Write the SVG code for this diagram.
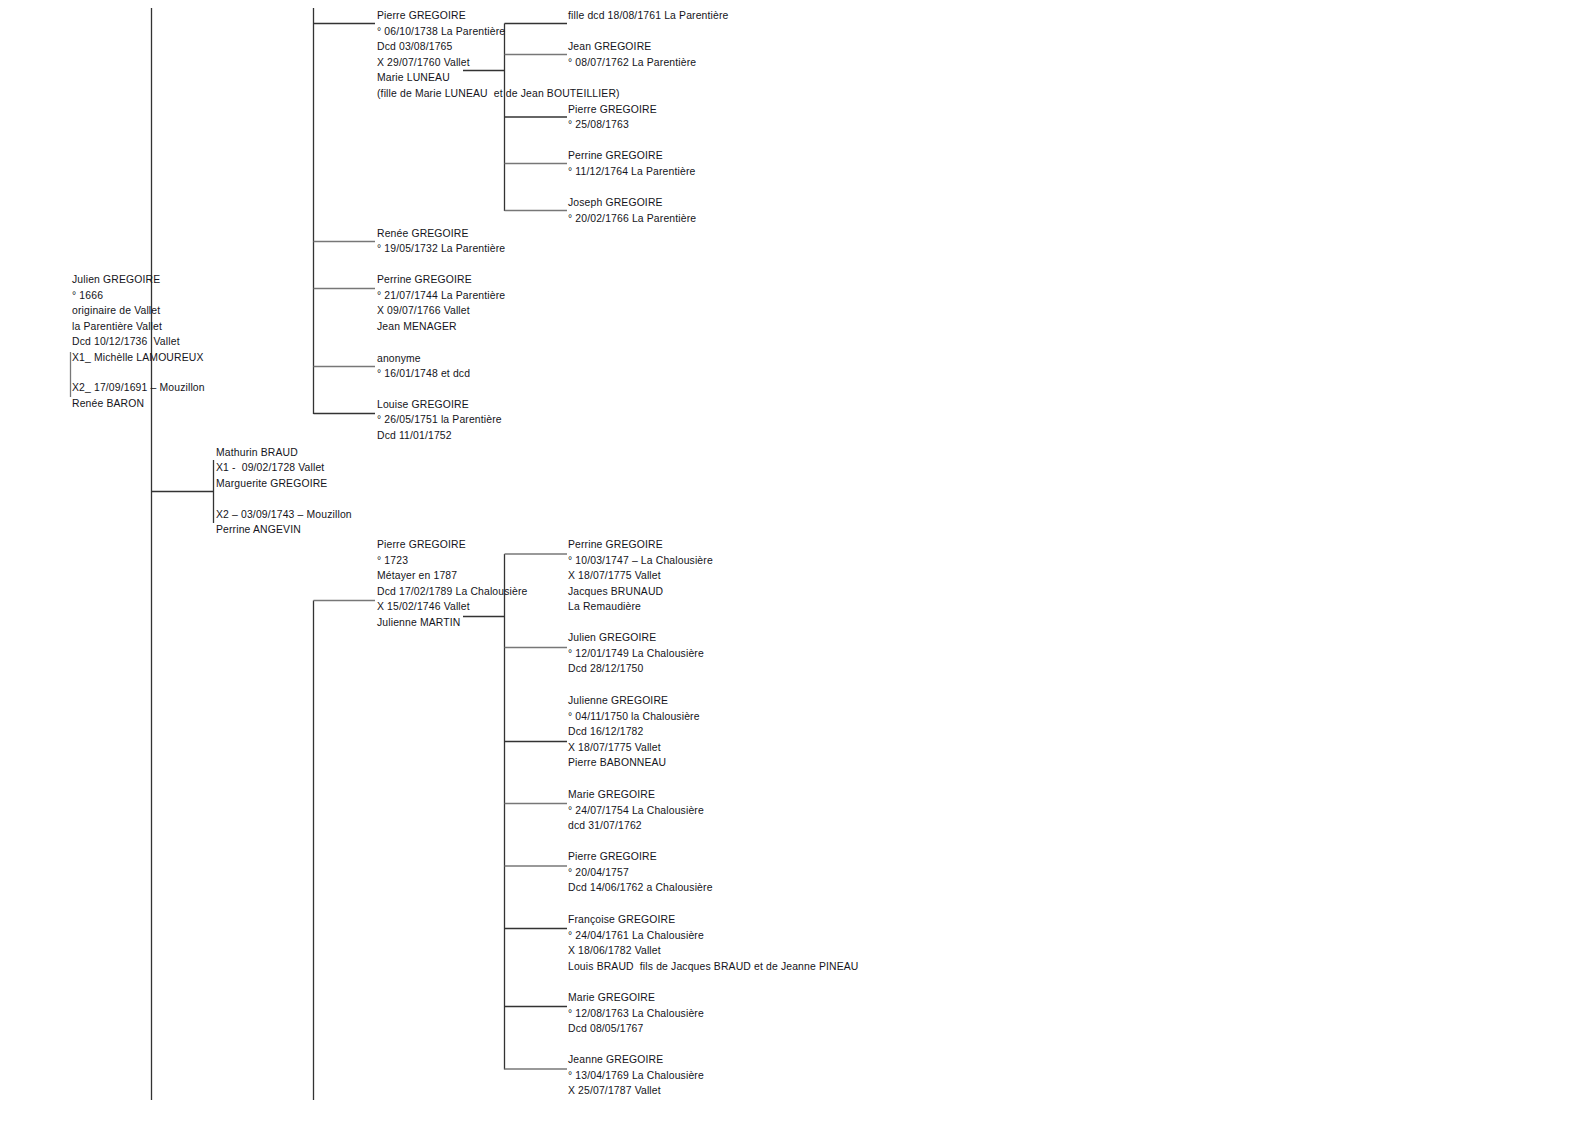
<svg xmlns="http://www.w3.org/2000/svg" width="1588" height="1123" viewBox="0 0 1588 1123">
<style>
text{font-family:"Liberation Sans",Arial,sans-serif;font-size:10.4px;letter-spacing:0.15px;fill:#141420;white-space:pre}
.c line{stroke:#333;stroke-width:1.3;fill:none}
.c .g{stroke:#777}
</style>
<rect width="1588" height="1123" fill="#fff"/>
<g id="connectors" class="c">
<line x1="151.5" y1="8" x2="151.5" y2="1100"/>
<line x1="313.5" y1="8" x2="313.5" y2="414"/>
<line x1="313.5" y1="600.5" x2="313.5" y2="1100"/>
<line x1="313.5" y1="23.5" x2="375" y2="23.5"/>
<line class="g" x1="313.5" y1="241.5" x2="375" y2="241.5"/>
<line class="g" x1="313.5" y1="288.5" x2="375" y2="288.5"/>
<line class="g" x1="313.5" y1="366.5" x2="375" y2="366.5"/>
<line x1="313.5" y1="413.5" x2="375" y2="413.5"/>
<line class="g" x1="313.5" y1="600.5" x2="375" y2="600.5"/>
<line class="g" x1="70.5" y1="352" x2="70.5" y2="397"/>
<line x1="151.5" y1="491.5" x2="213" y2="491.5"/>
<line x1="213.5" y1="460" x2="213.5" y2="523"/>
<line x1="504.5" y1="23.5" x2="504.5" y2="211"/>
<line x1="463" y1="70.5" x2="504.5" y2="70.5"/>
<line x1="504.5" y1="23.5" x2="567" y2="23.5"/>
<line class="g" x1="504.5" y1="54.5" x2="567" y2="54.5"/>
<line x1="504.5" y1="117" x2="567" y2="117"/>
<line class="g" x1="504.5" y1="163.5" x2="567" y2="163.5"/>
<line class="g" x1="504.5" y1="210.5" x2="567" y2="210.5"/>
<line x1="504.5" y1="554" x2="504.5" y2="1069.5"/>
<line x1="463" y1="616.5" x2="504.5" y2="616.5"/>
<line class="g" x1="504.5" y1="554" x2="567" y2="554"/>
<line class="g" x1="504.5" y1="647.5" x2="567" y2="647.5"/>
<line x1="504.5" y1="741.5" x2="567" y2="741.5"/>
<line class="g" x1="504.5" y1="803.5" x2="567" y2="803.5"/>
<line class="g" x1="504.5" y1="866" x2="567" y2="866"/>
<line x1="504.5" y1="928.5" x2="567" y2="928.5"/>
<line x1="504.5" y1="1006.5" x2="567" y2="1006.5"/>
<line class="g" x1="504.5" y1="1069" x2="567" y2="1069"/>
</g>
<g id="julien"><text x="72" y="283.3"><tspan x="72">Julien GREGOIRE</tspan><tspan x="72" dy="15.45">° 1666</tspan><tspan x="72" dy="15.45">originaire de Vallet</tspan><tspan x="72" dy="15.45">la Parentière Vallet</tspan><tspan x="72" dy="15.45">Dcd 10/12/1736  Vallet</tspan><tspan x="72" dy="15.45">X1_ Michèlle LAMOUREUX</tspan><tspan x="72" dy="30.9">X2_ 17/09/1691 – Mouzillon</tspan><tspan x="72" dy="15.45">Renée BARON</tspan></text></g>
<g id="pierre1738"><text x="377" y="19"><tspan x="377">Pierre GREGOIRE</tspan><tspan x="377" dy="15.5">° 06/10/1738 La Parentière</tspan><tspan x="377" dy="15.5">Dcd 03/08/1765</tspan><tspan x="377" dy="15.5">X 29/07/1760 Vallet</tspan><tspan x="377" dy="15.5">Marie LUNEAU</tspan><tspan x="377" dy="15.5">(fille de Marie LUNEAU  et de Jean BOUTEILLIER)</tspan></text></g>
<g id="fille1761"><text x="568" y="19">fille dcd 18/08/1761 La Parentière</text></g>
<g id="jean1762"><text x="568" y="50"><tspan x="568">Jean GREGOIRE</tspan><tspan x="568" dy="15.5">° 08/07/1762 La Parentière</tspan></text></g>
<g id="pierre1763"><text x="568" y="112.5"><tspan x="568">Pierre GREGOIRE</tspan><tspan x="568" dy="15.5">° 25/08/1763</tspan></text></g>
<g id="perrine1764"><text x="568" y="159.3"><tspan x="568">Perrine GREGOIRE</tspan><tspan x="568" dy="15.5">° 11/12/1764 La Parentière</tspan></text></g>
<g id="joseph1766"><text x="568" y="206"><tspan x="568">Joseph GREGOIRE</tspan><tspan x="568" dy="15.5">° 20/02/1766 La Parentière</tspan></text></g>
<g id="renee1732"><text x="377" y="236.7"><tspan x="377">Renée GREGOIRE</tspan><tspan x="377" dy="15.5">° 19/05/1732 La Parentière</tspan></text></g>
<g id="perrine1744"><text x="377" y="283.3"><tspan x="377">Perrine GREGOIRE</tspan><tspan x="377" dy="15.5">° 21/07/1744 La Parentière</tspan><tspan x="377" dy="15.5">X 09/07/1766 Vallet</tspan><tspan x="377" dy="15.5">Jean MENAGER</tspan></text></g>
<g id="anonyme"><text x="377" y="361.7"><tspan x="377">anonyme</tspan><tspan x="377" dy="15.5">° 16/01/1748 et dcd</tspan></text></g>
<g id="louise1751"><text x="377" y="407.7"><tspan x="377">Louise GREGOIRE</tspan><tspan x="377" dy="15.5">° 26/05/1751 la Parentière</tspan><tspan x="377" dy="15.5">Dcd 11/01/1752</tspan></text></g>
<g id="mathurin"><text x="216" y="455.7"><tspan x="216">Mathurin BRAUD</tspan><tspan x="216" dy="15.5">X1 -  09/02/1728 Vallet</tspan><tspan x="216" dy="15.5">Marguerite GREGOIRE</tspan><tspan x="216" dy="31">X2 – 03/09/1743 – Mouzillon</tspan><tspan x="216" dy="15.5">Perrine ANGEVIN</tspan></text></g>
<g id="pierre1723"><text x="377" y="548.3"><tspan x="377">Pierre GREGOIRE</tspan><tspan x="377" dy="15.5">° 1723</tspan><tspan x="377" dy="15.5">Métayer en 1787</tspan><tspan x="377" dy="15.5">Dcd 17/02/1789 La Chalousière</tspan><tspan x="377" dy="15.5">X 15/02/1746 Vallet</tspan><tspan x="377" dy="15.5">Julienne MARTIN</tspan></text></g>
<g id="perrine1747"><text x="568" y="548.3"><tspan x="568">Perrine GREGOIRE</tspan><tspan x="568" dy="15.5">° 10/03/1747 – La Chalousière</tspan><tspan x="568" dy="15.5">X 18/07/1775 Vallet</tspan><tspan x="568" dy="15.5">Jacques BRUNAUD</tspan><tspan x="568" dy="15.5">La Remaudière</tspan></text></g>
<g id="julien1749"><text x="568" y="641.3"><tspan x="568">Julien GREGOIRE</tspan><tspan x="568" dy="15.5">° 12/01/1749 La Chalousière</tspan><tspan x="568" dy="15.5">Dcd 28/12/1750</tspan></text></g>
<g id="julienne1750"><text x="568" y="704"><tspan x="568">Julienne GREGOIRE</tspan><tspan x="568" dy="15.5">° 04/11/1750 la Chalousière</tspan><tspan x="568" dy="15.5">Dcd 16/12/1782</tspan><tspan x="568" dy="15.5">X 18/07/1775 Vallet</tspan><tspan x="568" dy="15.5">Pierre BABONNEAU</tspan></text></g>
<g id="marie1754"><text x="568" y="798.3"><tspan x="568">Marie GREGOIRE</tspan><tspan x="568" dy="15.5">° 24/07/1754 La Chalousière</tspan><tspan x="568" dy="15.5">dcd 31/07/1762</tspan></text></g>
<g id="pierre1757"><text x="568" y="860"><tspan x="568">Pierre GREGOIRE</tspan><tspan x="568" dy="15.5">° 20/04/1757</tspan><tspan x="568" dy="15.5">Dcd 14/06/1762 a Chalousière</tspan></text></g>
<g id="francoise1761"><text x="568" y="923.3"><tspan x="568">Françoise GREGOIRE</tspan><tspan x="568" dy="15.5">° 24/04/1761 La Chalousière</tspan><tspan x="568" dy="15.5">X 18/06/1782 Vallet</tspan><tspan x="568" dy="15.5">Louis BRAUD  fils de Jacques BRAUD et de Jeanne PINEAU</tspan></text></g>
<g id="marie1763"><text x="568" y="1001"><tspan x="568">Marie GREGOIRE</tspan><tspan x="568" dy="15.5">° 12/08/1763 La Chalousière</tspan><tspan x="568" dy="15.5">Dcd 08/05/1767</tspan></text></g>
<g id="jeanne1769"><text x="568" y="1063.3"><tspan x="568">Jeanne GREGOIRE</tspan><tspan x="568" dy="15.5">° 13/04/1769 La Chalousière</tspan><tspan x="568" dy="15.5">X 25/07/1787 Vallet</tspan></text></g>
</svg>
